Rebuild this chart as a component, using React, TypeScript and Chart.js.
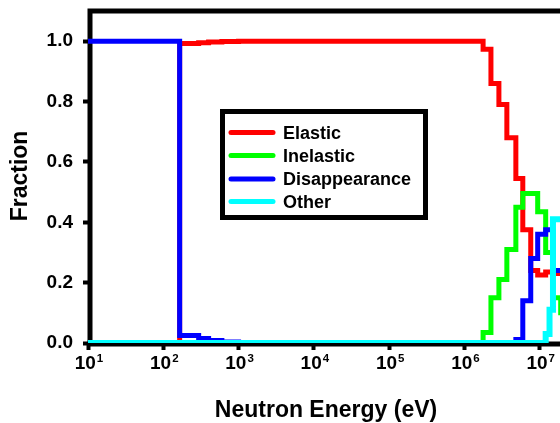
import React, { useEffect, useRef } from "react";
import { Chart, registerables } from "chart.js";

Chart.register(...registerables);

// ---- data ----
const energyEdges = [10, 165, 295, 400, 600, 1000, 1.77e6, 2.25e6, 2.87e6, 3.66e6, 4.82e6, 5.96e6, 7.6e6, 9.4e6, 1.2e7, 1.35e7, 1.5e7, 1.9e7, 1e8];
const elastic = [0, 0.992, 0.995, 0.997, 0.999, 1.0, 0.973, 0.86, 0.79, 0.68, 0.545, 0.375, 0.24, 0.225, 0.235, 0.235, 0.23, 0.23, 0.23];
const inelastic = [0, 0, 0, 0, 0, 0, 0.035, 0.15, 0.21, 0.31, 0.45, 0.495, 0.495, 0.435, 0.3, 0.3, 0.15, 0.1, 0.1];
const disappearance = [1.0, 0.025, 0.015, 0.008, 0.003, 0, 0, 0, 0, 0, 0.012, 0.14, 0.28, 0.36, 0.375, 0.375, 0.24, 0.24, 0.24];
const other = [0, 0, 0, 0, 0, 0, 0, 0, 0, 0, 0, 0, 0, 0, 0.03, 0.11, 0.41, 0.41, 0.41];

const seriesNames = ["Elastic", "Inelastic", "Disappearance", "Other"];
const seriesValues = [elastic, inelastic, disappearance, other];
const seriesColors = ["#ff0000", "#00ff00", "#0000ff", "#00ffff"];

const xTickPowers = [1, 2, 3, 4, 5, 6, 7, 8];
const yTickValues = [0, 0.2, 0.4, 0.6, 0.8, 1.0];
const xTitle = "Neutron Energy (eV)";
const yTitle = "Fraction";

const FONT = "'Liberation Sans', Arial, Helvetica, sans-serif";

const framePlugin = {
  id: "frame",
  beforeDatasetsDraw(chart: any) {
    const { ctx, chartArea: a } = chart;
    ctx.save();
    ctx.strokeStyle = "#000";
    ctx.lineWidth = 5;
    ctx.strokeRect(a.left + 2, a.top, a.right - a.left - 2, a.bottom + 1 - a.top);
    ctx.restore();
  },
};

const textPlugin = {
  id: "texts",
  afterDraw(chart: any) {
    const { ctx } = chart;
    const xs = chart.scales.x;
    ctx.save();
    ctx.fillStyle = "#000";
    ctx.textBaseline = "alphabetic";
    // x tick labels with superscripts
    xTickPowers.forEach((p) => {
      const px = xs.getPixelForValue(Math.pow(10, p));
      ctx.font = `bold 19px ${FONT}`;
      const wBase = ctx.measureText("10").width;
      ctx.font = `bold 11.5px ${FONT}`;
      const sup = String(p);
      const wSup = ctx.measureText(sup).width;
      const total = wBase + 1 + wSup;
      const x0 = px - total / 2 + 1;
      ctx.font = `bold 19px ${FONT}`;
      ctx.textAlign = "left";
      ctx.fillText("10", x0, 369);
      ctx.font = `bold 11.5px ${FONT}`;
      ctx.fillText(sup, x0 + wBase + 1, 362);
    });
    // axis titles
    ctx.font = `bold 23px ${FONT}`;
    ctx.textAlign = "center";
    ctx.fillText(xTitle, 326, 417);
    ctx.save();
    ctx.translate(27, 176);
    ctx.rotate(-Math.PI / 2);
    ctx.fillText(yTitle, 0, 0);
    ctx.restore();
    ctx.restore();
  },
};

const legendPlugin = {
  id: "boxLegend",
  afterDatasetsDraw(chart: any) {
    const { ctx } = chart;
    const bx = 222.5, by = 111.5, bw = 203, bh = 106;
    ctx.save();
    ctx.fillStyle = "#fff";
    ctx.fillRect(bx, by, bw, bh);
    ctx.strokeStyle = "#000";
    ctx.lineWidth = 5;
    ctx.strokeRect(bx, by, bw, bh);
    const rowY = [132.5, 155.5, 179, 201.5];
    seriesNames.forEach((name, i) => {
      const y = rowY[i];
      ctx.strokeStyle = seriesColors[i];
      ctx.lineWidth = 5;
      ctx.lineCap = "round";
      ctx.beginPath();
      ctx.moveTo(231, y);
      ctx.lineTo(273, y);
      ctx.stroke();
      ctx.fillStyle = "#000";
      ctx.font = `bold 18px ${FONT}`;
      ctx.textAlign = "left";
      ctx.textBaseline = "alphabetic";
      ctx.fillText(name, 283, y + 6.4);
    });
    ctx.restore();
  },
};

export default function App() {
  const ref = useRef<HTMLCanvasElement | null>(null);

  useEffect(() => {
    if (!ref.current) return;
    const drawOrder = [3, 2, 1, 0]; // Other on top
    const datasets = seriesNames.map((name, i) => ({
      label: name,
      data: energyEdges.map((e, j) => ({ x: e, y: seriesValues[i][j] })),
      borderColor: seriesColors[i],
      backgroundColor: seriesColors[i],
      borderWidth: i === 3 ? 6 : 5,
      pointRadius: 0,
      stepped: true,
      fill: false,
      borderJoinStyle: "miter" as const,
      borderCapStyle: "butt" as const,
      order: drawOrder[i],
    }));

    const chart = new Chart(ref.current, {
      type: "line",
      data: { datasets },
      options: {
        responsive: false,
        animation: false,
        devicePixelRatio: 1,
        layout: { padding: { left: 0, top: 11, right: 25, bottom: 0 } },
        plugins: { legend: { display: false }, tooltip: { enabled: false }, title: { display: false } },
        scales: {
          x: {
            type: "logarithmic",
            min: 10,
            max: 1e8,
            afterBuildTicks: (s: any) => {
              s.ticks = xTickPowers.map((p) => ({ value: Math.pow(10, p) }));
            },
            afterFit: (s: any) => {
              s.height = 80;
              s.paddingLeft = 0;
              s.paddingRight = 0;
            },
            ticks: { display: false },
            grid: {
              drawOnChartArea: false,
              drawTicks: true,
              tickLength: 7,
              tickWidth: 4,
              tickColor: "#000",
            },
            border: { display: false },
          },
          y: {
            type: "linear",
            min: 0,
            max: 1.1,
            afterBuildTicks: (s: any) => {
              s.ticks = yTickValues.map((v) => ({ value: v }));
            },
            afterFit: (s: any) => {
              s.width = 88;
              s.paddingTop = 0;
              s.paddingBottom = 0;
            },
            ticks: {
              color: "#000",
              padding: 10,
              font: { family: FONT, weight: "bold", size: 19 },
              callback: (v: any) => Number(v).toFixed(1),
            },
            grid: {
              drawOnChartArea: false,
              drawTicks: true,
              tickLength: 5,
              tickWidth: 4,
              tickColor: "#000",
            },
            border: { display: false },
          },
        },
      },
      plugins: [framePlugin, legendPlugin, textPlugin],
    });
    return () => chart.destroy();
  }, []);

  return (
    <div
      style={{
        position: "fixed",
        left: 0,
        top: 0,
        width: 560,
        height: 423,
        overflow: "hidden",
        background: "#fff",
      }}
    >
      <canvas ref={ref} width={640} height={423} style={{ display: "block", width: 640, height: 423 }} />
    </div>
  );
}
